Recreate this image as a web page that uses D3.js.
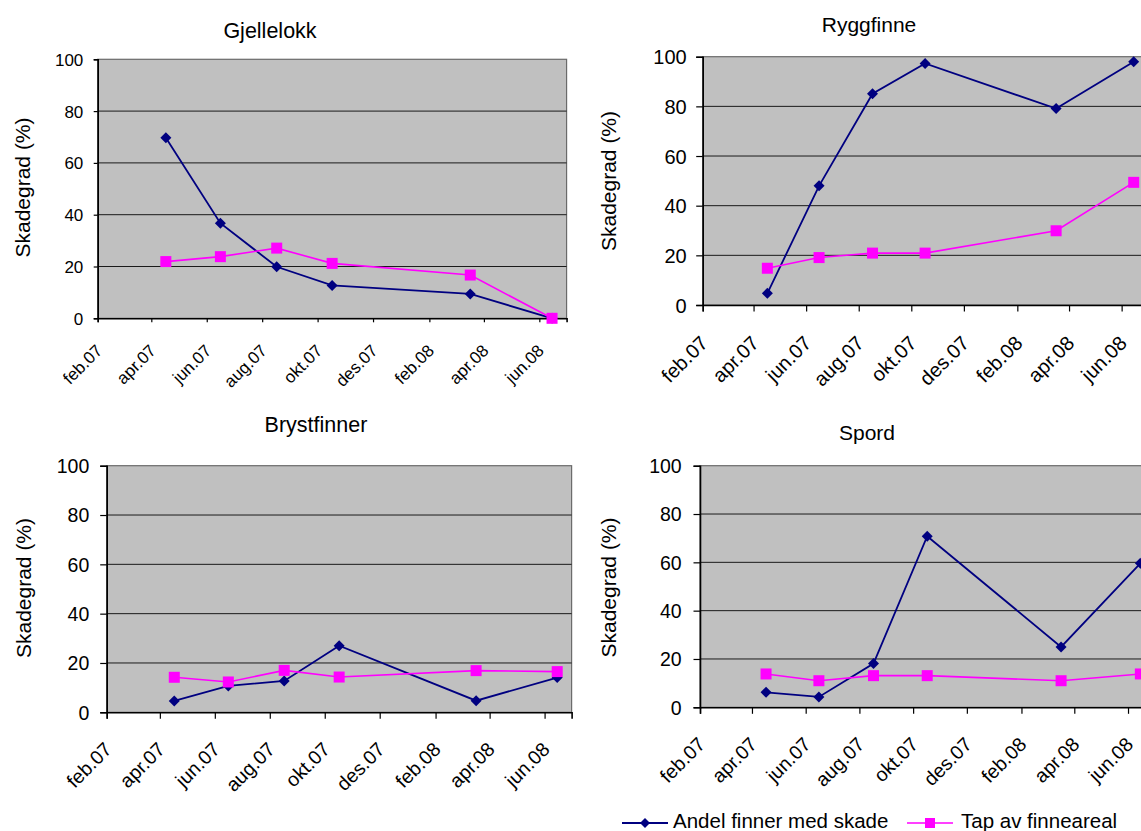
<!DOCTYPE html>
<html>
<head>
<meta charset="utf-8">
<script src="https://cdn.jsdelivr.net/npm/d3@7/dist/d3.min.js"></script>
<style>
  html, body { margin: 0; padding: 0; background: #fff; }
  svg { display: block; font-family: "Liberation Sans", Arial, sans-serif; }
</style>
</head>
<body>
<svg id="chart" width="1141" height="831"></svg>
<script>
// ---- Data ----
const sampleDates = ["2007-04-17", "2007-06-16", "2007-08-17", "2007-10-17", "2008-03-17", "2008-06-15"];
const tickDates = ["2007-02-01", "2007-04-01", "2007-06-01", "2007-08-01", "2007-10-01", "2007-12-01", "2008-02-01", "2008-04-01", "2008-06-01"];
const tickLabels = ["feb.07", "apr.07", "jun.07", "aug.07", "okt.07", "des.07", "feb.08", "apr.08", "jun.08"];
const yTicks = [0, 20, 40, 60, 80, 100];
const seriesNames = ["Andel finner med skade", "Tap av finneareal"];
const panelTitles = ["Gjellelokk", "Ryggfinne", "Brystfinner", "Spord"];

const gjellelokkAndel = [69.7, 36.7, 19.9, 12.7, 9.4, 0];
const gjellelokkTap = [21.9, 23.8, 27.1, 21.2, 16.7, 0];
const ryggfinneAndel = [4.7, 48.0, 85.1, 97.3, 79.1, 98.0];
const ryggfinneTap = [14.8, 19.1, 20.9, 20.9, 29.9, 49.4];
const brystfinnerAndel = [4.6, 10.7, 12.7, 27.0, 4.7, 14.1];
const brystfinnerTap = [14.2, 12.3, 17.0, 14.3, 16.9, 16.5];
const spordAndel = [6.2, 4.3, 18.1, 70.8, 25.0, 59.6];
const spordTap = [13.8, 11.0, 13.1, 13.1, 11.0, 13.8];

const yLabel = "Skadegrad (%)";
const xDomain = ["2007-02-01", "2008-07-01"];

// ---- Layout (positions only) ----
const layouts = [
  { left: 97.7, top: 59.3, bottom: 318.3, pxPerDay: 0.9087, fs: 17, tickLen: 4, titleX: 270, titleY: 38, titleFs: 21.5, yLabX: 22.7, yLabY: 187.5 },
  { left: 702.7, top: 56.7, bottom: 305, pxPerDay: 0.862, fs: 20, tickLen: 6.5, titleX: 869, titleY: 32, titleFs: 21, yLabX: 609, yLabY: 181 },
  { left: 106.7, top: 465.7, bottom: 712.3, pxPerDay: 0.901, fs: 19.5, tickLen: 6.5, titleX: 316, titleY: 432, titleFs: 21.5, yLabX: 24, yLabY: 588 },
  { left: 700, top: 465.7, bottom: 707.3, pxPerDay: 0.8807, fs: 19.5, tickLen: 6.5, titleX: 867, titleY: 440, titleFs: 21, yLabX: 609, yLabY: 587.5 }
];
const panelData = [
  [gjellelokkAndel, gjellelokkTap],
  [ryggfinneAndel, ryggfinneTap],
  [brystfinnerAndel, brystfinnerTap],
  [spordAndel, spordTap]
];

const parse = d3.timeParse("%Y-%m-%d");
const dates = sampleDates.map(parse);
const tDates = tickDates.map(parse);
const dom = xDomain.map(parse);
const colors = ["#000080", "#FF00FF"];

const svg = d3.select("#chart");
svg.append("rect").attr("width", 1141).attr("height", 831).attr("fill", "#fff");

layouts.forEach((L, i) => {
  const days = (dom[1] - dom[0]) / 864e5;
  const right = L.left + L.pxPerDay * days;
  const x = d3.scaleTime().domain(dom).range([L.left, right]);
  const y = d3.scaleLinear().domain([0, 100]).range([L.bottom, L.top]);
  const g = svg.append("g");

  // plot area
  g.append("rect")
    .attr("x", L.left).attr("y", L.top)
    .attr("width", right - L.left).attr("height", L.bottom - L.top)
    .attr("fill", "#C0C0C0").attr("stroke", "#6a6a6a").attr("stroke-width", 1.2);

  // gridlines
  g.selectAll(".grid").data(yTicks.filter(v => v > 0 && v < 100)).enter().append("line")
    .attr("x1", L.left).attr("x2", right)
    .attr("y1", d => y(d)).attr("y2", d => y(d))
    .attr("stroke", "#1a1a1a").attr("stroke-width", 1);

  // y axis
  const yAxis = d3.axisLeft(y).tickValues(yTicks).tickSize(L.tickLen).tickPadding(L.left - 14 - (L.left - L.tickLen) + 0);
  const ya = g.append("g").attr("transform", `translate(${L.left},0)`).call(yAxis);
  ya.select(".domain").attr("stroke", "#000").attr("stroke-width", 1.6);
  ya.selectAll(".tick line").attr("stroke", "#000").attr("stroke-width", 1.2);
  const ypad = [14.4, 16, 17.4, 18.3][i];
  ya.selectAll(".tick text").attr("x", -ypad).attr("dy", "0.35em")
    .attr("font-size", L.fs).attr("fill", "#000").attr("font-family", "Liberation Sans, Arial, sans-serif");

  // x axis
  const xAxis = d3.axisBottom(x).tickValues(tDates).tickSize(L.tickLen).tickFormat((d, k) => tickLabels[k]);
  const xa = g.append("g").attr("transform", `translate(0,${L.bottom})`).call(xAxis);
  xa.select(".domain").attr("stroke", "#000").attr("stroke-width", 1.6);
  xa.selectAll(".tick line").attr("stroke", "#000").attr("stroke-width", 1.2);
  xa.selectAll(".tick text")
    .attr("y", 0).attr("dy", null)
    .attr("font-size", L.fs).attr("fill", "#000").attr("font-family", "Liberation Sans, Arial, sans-serif")
    .attr("text-anchor", "end")
    .attr("transform", `translate(1,${L.fs * 1.72}) rotate(-45)`)
    .attr("dy", "0.35em");

  // series
  panelData[i].forEach((vals, s) => {
    const pts = vals.map((v, k) => [x(dates[k]), y(v)]);
    g.append("path")
      .attr("d", d3.line()(pts))
      .attr("fill", "none").attr("stroke", colors[s]).attr("stroke-width", s === 0 ? 1.8 : 1.6);
    if (s === 0) {
      g.selectAll(null).data(pts).enter().append("path")
        .attr("d", d => `M${d[0]},${d[1] - 5.5}L${d[0] + 5.5},${d[1]}L${d[0]},${d[1] + 5.5}L${d[0] - 5.5},${d[1]}Z`)
        .attr("fill", colors[s]);
    } else {
      g.selectAll(null).data(pts).enter().append("rect")
        .attr("x", d => d[0] - 5.5).attr("y", d => d[1] - 5.5)
        .attr("width", 11).attr("height", 11).attr("fill", colors[s]);
    }
  });

  // title
  g.append("text").attr("x", L.titleX).attr("y", L.titleY)
    .attr("text-anchor", "middle").attr("font-size", L.titleFs).attr("fill", "#000")
    .text(panelTitles[i]);

  // y label
  g.append("text")
    .attr("transform", `translate(${L.yLabX},${L.yLabY}) rotate(-90)`)
    .attr("text-anchor", "middle").attr("dy", "0.35em")
    .attr("font-size", 21).attr("fill", "#000")
    .text(yLabel);
});

// ---- Legend ----
const leg = svg.append("g");
const legItems = [
  { x1: 622, x2: 668, mx: 645, tx: 673 },
  { x1: 907, x2: 953, mx: 930, tx: 961 }
];
legItems.forEach((it, s) => {
  const ly = 823;
  leg.append("line").attr("x1", it.x1).attr("x2", it.x2).attr("y1", ly).attr("y2", ly)
    .attr("stroke", colors[s]).attr("stroke-width", s === 0 ? 1.8 : 1.6);
  if (s === 0) {
    leg.append("path").attr("d", `M${it.mx},${ly - 5}L${it.mx + 5},${ly}L${it.mx},${ly + 5}L${it.mx - 5},${ly}Z`).attr("fill", colors[s]);
  } else {
    leg.append("rect").attr("x", it.mx - 5).attr("y", ly - 5).attr("width", 10).attr("height", 10).attr("fill", colors[s]);
  }
  leg.append("text").attr("x", it.tx).attr("y", 827.5).attr("font-size", 20.5).attr("fill", "#000")
    .text(seriesNames[s]);
});
</script>
</body>
</html>
